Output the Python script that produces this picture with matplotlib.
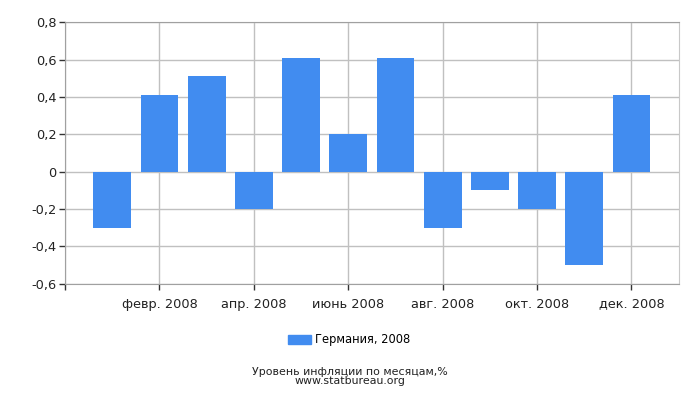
import matplotlib
matplotlib.use("Agg")
import matplotlib.pyplot as plt
from matplotlib.patches import Patch

months = list(range(1, 13))
values = [-0.3, 0.41, 0.51, -0.2, 0.61, 0.2, 0.61, -0.3, -0.1, -0.2, -0.5, 0.41]
tick_pos = [0, 2, 4, 6, 8, 10, 12]
tick_labels = ["", "февр. 2008", "апр. 2008", "июнь 2008", "авг. 2008", "окт. 2008", "дек. 2008"]
y_ticks = [-0.6, -0.4, -0.2, 0, 0.2, 0.4, 0.6, 0.8]
y_labels = ["-0,6", "-0,4", "-0,2", "0", "0,2", "0,4", "0,6", "0,8"]
series_name = "Германия, 2008"
caption = "Уровень инфляции по месяцам,%\nwww.statbureau.org"

plt.rcParams['font.family'] = ['DejaVu Sans']
fig = plt.figure(figsize=(7, 4), dpi=100)
ax = fig.add_axes([65/700, 1-283.7/400, (678.7-65)/700, (283.7-22.3)/400])
color = "#418CF0"
ax.bar(months, values, width=0.8, color=color, zorder=3)
ax.set_xlim(0, 13)
ax.set_ylim(-0.6, 0.8)
ax.set_xticks(tick_pos)
ax.set_xticklabels(tick_labels, fontsize=9.3, color="#222222")
ax.set_yticks(y_ticks)
ax.set_yticklabels(y_labels, fontsize=9.3, color="#222222")
ax.grid(True, color="#C0C0C0", linewidth=1, zorder=0)
for s in ["top", "left", "bottom"]:
    ax.spines[s].set_color("#A0A0A0")
ax.spines["right"].set_color("#C8C8C8")
ax.tick_params(axis="both", length=4, color="#333333", width=1)
ax.tick_params(axis="x", pad=6)
ax.tick_params(axis="y", pad=2)

fig.legend(handles=[Patch(color=color, label=series_name)], loc="center",
           bbox_to_anchor=(349/700, 1-340/400), frameon=False, fontsize=8.3,
           handlelength=1.95, handleheight=0.76, handletextpad=0.35)
fig.text(0.5, 1-376.5/400, caption, ha="center", va="center", fontsize=7.9,
         color="#222222", linespacing=0.95)
fig.savefig("out.png", dpi=100)
